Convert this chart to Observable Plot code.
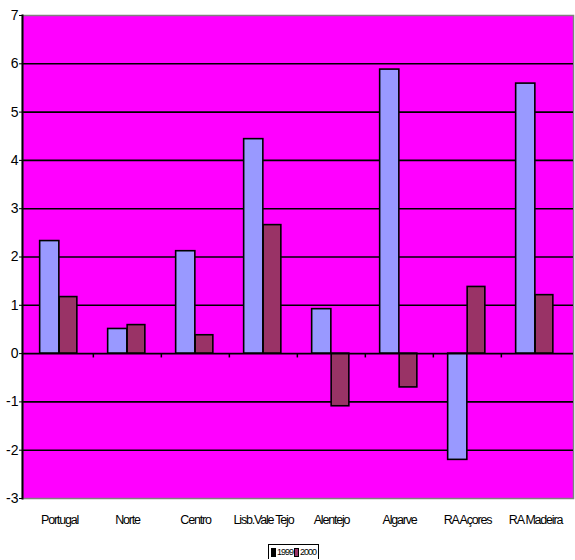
<!DOCTYPE html>
<html>
<head>
<meta charset="utf-8">
<script src="https://cdn.jsdelivr.net/npm/d3@7"></script>
<script src="https://cdn.jsdelivr.net/npm/@observablehq/plot@0.6"></script>
<style>
  html, body { margin: 0; padding: 0; background: #fff; }
  #wrap { position: relative; width: 575px; height: 560px; font-family: "Liberation Sans", Arial, sans-serif; }
  #wrap svg { display: block; }
  .xlab text { letter-spacing: -1.2px; }
  #legend { position: absolute; left: 268px; top: 544px; height: 14px; border: 1.5px solid #000; border-bottom: none;
    display: flex; align-items: center; gap: 1px; padding: 0 2px; font-size: 9px; letter-spacing: -1px; background: #fff; }
  .sw { display: inline-block; width: 3px; height: 7px; border: 1px solid #000; }
</style>
</head>
<body>
<div id="wrap"></div>
<script>
const categories = ["Portugal", "Norte", "Centro", "Lisb.Vale Tejo", "Alentejo", "Algarve", "RA Açores", "RA Madeira"];
const series = ["1999", "2000"];
const values1999 = [2.33, 0.51, 2.12, 4.44, 0.92, 5.88, -2.20, 5.59];
const values2000 = [1.17, 0.59, 0.38, 2.66, -1.09, -0.70, 1.38, 1.21];
const yTicks = [-3, -2, -1, 0, 1, 2, 3, 4, 5, 6, 7];
const gridTicks = [-2, -1, 1, 2, 3, 4, 5, 6];
const colors = {"1999": "#9999FF", "2000": "#993366"};

const rows = [];
categories.forEach((c, i) => {
  rows.push({cat: c, year: "1999", value: values1999[i]});
  rows.push({cat: c, year: "2000", value: values2000[i]});
});

const xRange = [23.5, 570];
const half = (xRange[1] - xRange[0]) / categories.length / 2;
const barW = 19.5;

const chart = Plot.plot({
  width: 575,
  height: 535,
  marginTop: 15,
  marginBottom: 37,
  marginLeft: 22,
  marginRight: 2,
  style: {fontFamily: "Liberation Sans, Arial, sans-serif", background: "transparent"},
  x: {type: "band", domain: categories, range: xRange, padding: 0, label: null},
  y: {domain: [-3, 7], label: null},
  marks: [
    Plot.frame({fill: "#FF00FF", stroke: "#808080", strokeWidth: 1.5}),
    Plot.ruleY(gridTicks, {stroke: "#000", strokeWidth: 1.6}),
    Plot.barY(rows.filter(d => d.year === "1999"), {
      x: "cat", y: "value", fill: d => colors[d.year], stroke: "#000", strokeWidth: 1.6,
      insetLeft: half - barW, insetRight: half
    }),
    Plot.barY(rows.filter(d => d.year === "2000"), {
      x: "cat", y: "value", fill: d => colors[d.year], stroke: "#000", strokeWidth: 1.6,
      insetLeft: half, insetRight: half - barW + 1.5
    }),
    Plot.ruleY([0], {stroke: "#000", strokeWidth: 1.6}),
    Plot.ruleX(categories.slice(1), {x: d => d, y1: 0, y2: -0.09, dx: -half, stroke: "#000", strokeWidth: 1.5}),
    Plot.frame({anchor: "left", stroke: "#000", strokeWidth: 2}),
    Plot.axisY({ticks: yTicks, tickSize: 3, tickPadding: 1, fontSize: 14, tickFormat: d => String(d), color: "#000", label: null}),
    Plot.axisX({tickSize: 0, tickPadding: 17, fontSize: 12.5, className: "xlab", color: "#000", label: null})
  ]
});
document.getElementById("wrap").appendChild(chart);

const legend = document.createElement("div");
legend.id = "legend";
series.forEach(s => {
  const sw = document.createElement("span");
  sw.className = "sw";
  sw.style.background = s === "1999" ? "#000" : colors[s];
  legend.appendChild(sw);
  const t = document.createElement("span");
  t.textContent = s;
  legend.appendChild(t);
});
document.getElementById("wrap").appendChild(legend);
</script>
</body>
</html>
